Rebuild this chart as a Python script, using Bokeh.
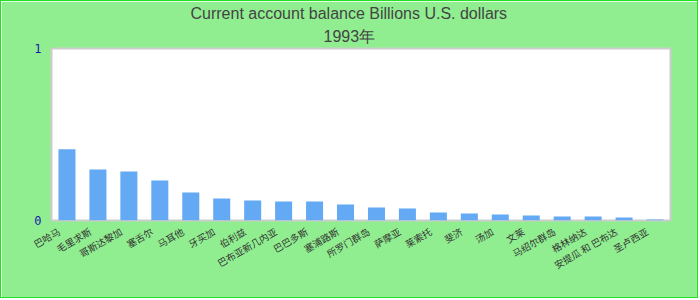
import math
from bokeh.plotting import figure
from bokeh.models import (Range1d, FixedTicker, ColumnDataSource, Title, LinearAxis)
from bokeh.embed import file_html
from bokeh.resources import INLINE

title_line1 = "Current account balance Billions U.S. dollars"
title_line2 = "1993年"

countries = [
    "巴哈马", "毛里求斯", "哥斯达黎加", "塞舌尔", "马耳他", "牙买加", "伯利兹",
    "巴布亚新几内亚", "巴巴多斯", "塞浦路斯", "所罗门群岛", "萨摩亚", "莱索托",
    "斐济", "汤加", "文莱", "马绍尔群岛", "格林纳达", "安提瓜 和 巴布达", "圣卢西亚",
]
values = [
    0.414, 0.297, 0.285, 0.233, 0.163, 0.128, 0.116, 0.111, 0.111, 0.093,
    0.076, 0.070, 0.047, 0.041, 0.035, 0.029, 0.023, 0.023, 0.017, 0.006,
]
y_ticks = [0, 1]

n = len(countries)
slot = [i + 0.5 for i in range(n)]          # category slot centres
src = ColumnDataSource(data=dict(x=slot, c=countries, v=values))

label_shift = 0.25
p = figure(
    width=698, height=298,
    x_range=Range1d(0, n),
    y_range=Range1d(0, 1),
    output_backend="svg", toolbar_location=None,
    min_border_left=50, min_border_right=29, min_border_top=47, min_border_bottom=79,
)
p.extra_x_ranges = {"lab": Range1d(label_shift, n + label_shift)}
p.styles = {"border": "1px solid #22e022"}

p.vbar(x="x", top="v", width=0.55, source=src, color="#63a9f4", line_color=None)

p.xgrid.visible = False
p.ygrid.visible = False
p.background_fill_color = "white"
p.border_fill_color = "#90EE90"
p.outline_line_color = "#cccccc"
p.outline_line_width = 2

t1 = p.title
t1.text = title_line1
t1.align = "left"
t1.offset = 139
t1.standoff = 0
t1.text_font = "Liberation Sans"
t1.text_font_size = "16px"
t1.text_font_style = "normal"
t1.text_color = "#444444"

t2 = Title(text=title_line2, align="left", offset=272, standoff=8,
           text_font="Liberation Sans", text_font_size="16px",
           text_font_style="normal", text_color="#444444")
p.add_layout(t2, "above")

ya = p.yaxis[0]
ya.ticker = FixedTicker(ticks=y_ticks)
ya.axis_line_color = None
ya.major_tick_line_color = None
ya.minor_tick_line_color = None
ya.major_tick_out = 0
ya.major_label_standoff = 10
ya.major_label_text_font = "DejaVu Sans Mono"
ya.major_label_text_font_size = "12px"
ya.major_label_text_color = "#1a1aa8"

p.xaxis[0].visible = False

xa = LinearAxis(
    x_range_name="lab",
    ticker=FixedTicker(ticks=slot),
    major_label_overrides={t: c for t, c in zip(slot, countries)},
)
xa.axis_line_color = None
xa.major_tick_line_color = None
xa.minor_tick_line_color = None
xa.major_tick_out = 0
xa.major_label_standoff = 10
xa.major_label_orientation = math.pi / 6
xa.major_label_text_font = "Noto Sans CJK SC"
xa.major_label_text_font_size = "9.5px"
xa.major_label_text_color = "#333333"
p.add_layout(xa, "below")

open("out.html", "w").write(file_html(p, INLINE))
